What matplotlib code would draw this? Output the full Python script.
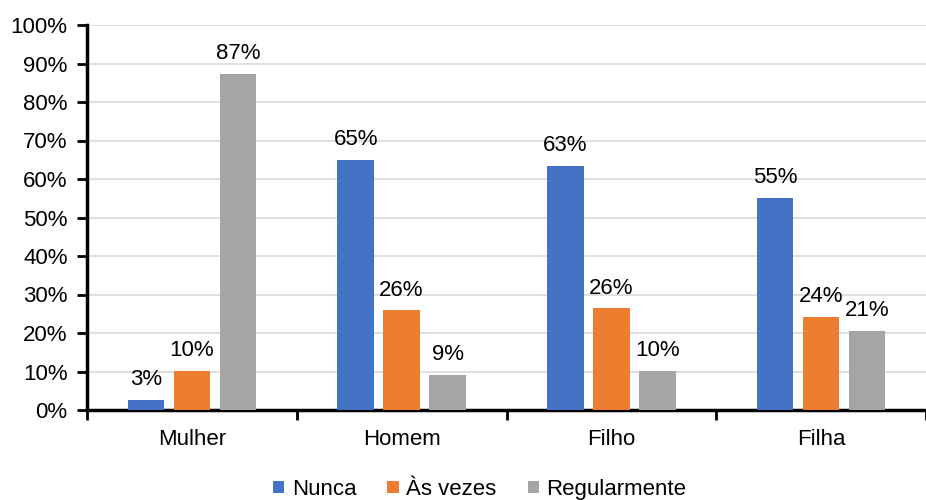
import numpy as np
import matplotlib
matplotlib.use("Agg")
import matplotlib.pyplot as plt

plt.rcParams['font.family'] = ['Liberation Sans', 'DejaVu Sans']

# Dados do gráfico
categorias = ['Mulher', 'Homem', 'Filho', 'Filha']
nunca = [2.6, 65.0, 63.4, 55.1]
as_vezes = [10.1, 25.9, 26.4, 24.2]
regularmente = [87.3, 9.1, 10.1, 20.6]
series = ['Nunca', 'Às vezes', 'Regularmente']
cores = ['#4472C4', '#ED7D31', '#A5A5A5']

fs = 16

fig = plt.figure(figsize=(9.26, 5.0), dpi=100)
ax = fig.add_axes([87 / 926, 90 / 500, 1 - 87 / 926, 385 / 500])

x = np.arange(len(categorias))
largura = 0.174
passo = 0.219
for i, (nome, vals, cor) in enumerate(zip(series, [nunca, as_vezes, regularmente], cores)):
    barras = ax.bar(x + (i - 1) * passo, vals, largura, color=cor, label=nome, zorder=3)
    ax.bar_label(barras, labels=[f'{round(v):d}%' for v in vals], padding=7, fontsize=fs)

ax.set_ylim(0, 100)
ax.set_xlim(-0.5, -0.5 + 839 / 212.5)
ax.set_yticks(np.arange(0, 101, 10))
ax.set_yticklabels([f'{v}%' for v in range(0, 101, 10)], fontsize=fs)
ax.yaxis.grid(True, color='#D9D9D9', linewidth=1.2, zorder=0)
ax.set_axisbelow(True)

# ticks do eixo x nas fronteiras das categorias
ax.set_xticks(np.arange(-0.5, 4, 1))
ax.set_xticklabels([])
ax.set_xticks(x, minor=True)
ax.set_xticklabels(categorias, minor=True, fontsize=fs)
ax.tick_params(axis='x', which='major', direction='out', length=7, width=2)
ax.tick_params(axis='x', which='minor', length=0, pad=14)
ax.tick_params(axis='y', direction='out', length=7, width=2, pad=7)

for lado in ['top', 'right']:
    ax.spines[lado].set_visible(False)
for lado in ['left', 'bottom']:
    ax.spines[lado].set_linewidth(2.5)
    ax.spines[lado].set_color('black')

fig.legend(loc='lower center', bbox_to_anchor=(0.518, -0.04), ncol=3, frameon=False,
           fontsize=fs, handlelength=0.5, handleheight=0.5, handletextpad=0.35,
           columnspacing=1.4)

fig.savefig('out.png', dpi=100)
